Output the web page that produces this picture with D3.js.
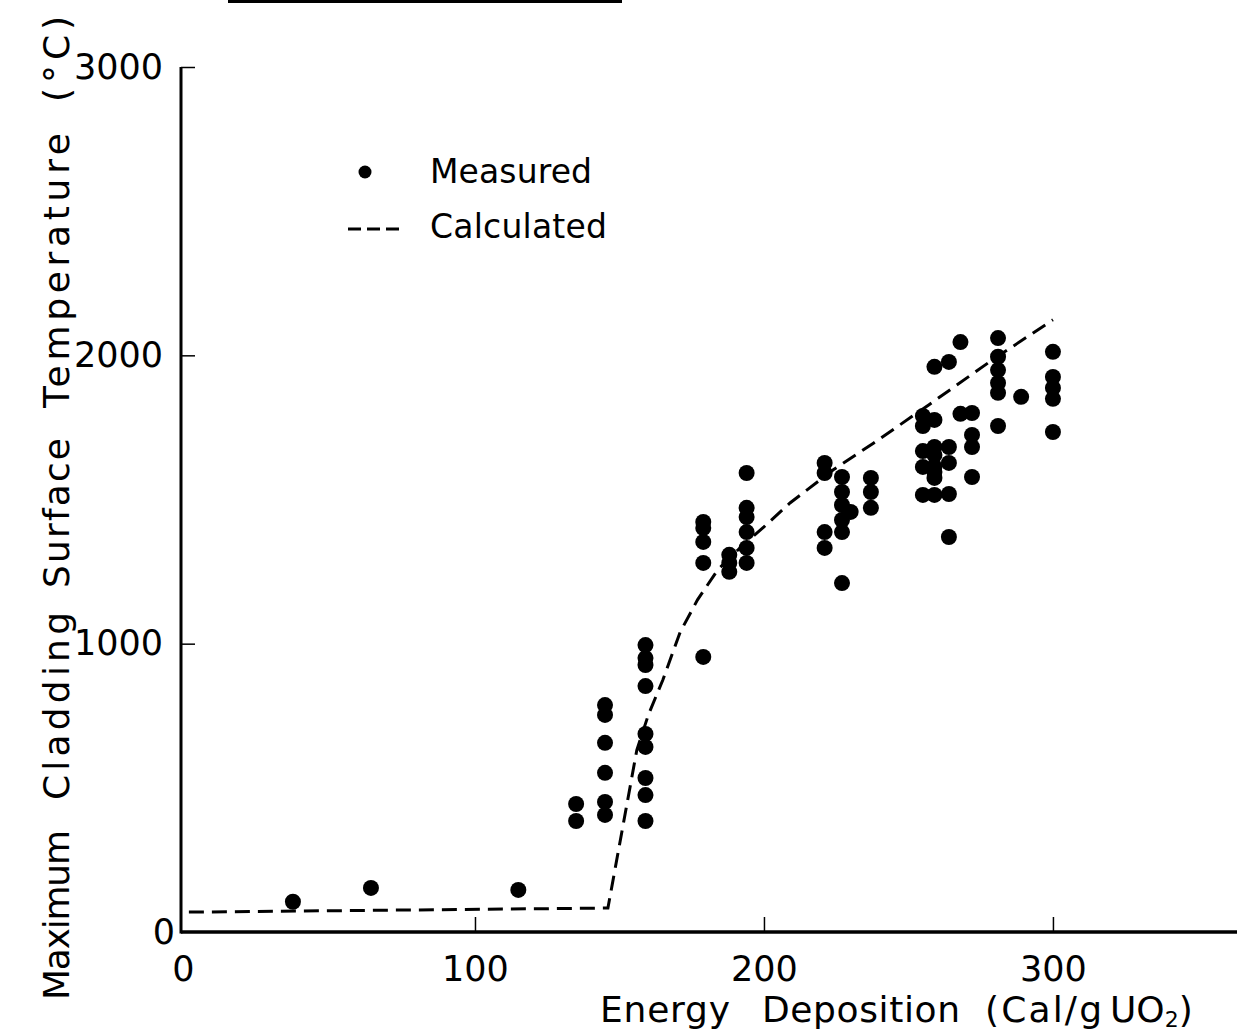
<!DOCTYPE html>
<html>
<head>
<meta charset="utf-8">
<script src="https://cdn.jsdelivr.net/npm/d3@7"></script>
<style>
  body { margin: 0; background: #fff; }
  svg { display: block; }
  text { font-family: "DejaVu Sans", sans-serif; fill: #000; }
</style>
</head>
<body>
<svg id="chart"></svg>
<script>
var width = 1237, height = 1034;

// measured points (energy deposition cal/g UO2, max cladding temperature degC)
var measuredEnergy = [37, 64, 115,
  135, 135,
  145, 145, 145, 145, 145, 145,
  159, 159, 159, 159, 159, 159, 159, 159, 159,
  179, 179, 179, 179, 179,
  188, 188, 188,
  194, 194, 194, 194, 194, 194,
  221, 221, 221, 221,
  227, 227, 227, 227, 227, 227,
  230,
  237, 237, 237,
  255, 255, 255, 255, 255,
  259, 259, 259, 259, 259, 259, 259, 259,
  264, 264, 264, 264, 264,
  268, 268,
  272, 272, 272, 272,
  281, 281, 281, 281, 281, 281,
  289,
  300, 300, 300, 300, 300];
var measuredTemp = [105, 153, 146,
  444, 385,
  787, 753, 656, 552, 451, 406,
  995, 950, 926, 853, 687, 642, 534, 475, 385,
  1422, 1401, 1353, 1280, 954,
  1308, 1280, 1249,
  1592, 1471, 1439, 1387, 1332, 1280,
  1627, 1592, 1387, 1332,
  1578, 1526, 1481, 1429, 1387, 1210,
  1457,
  1575, 1526, 1471,
  1790, 1755, 1668, 1613, 1516,
  1960, 1776, 1682, 1654, 1613, 1595, 1575, 1516,
  1977, 1682, 1627, 1519, 1370,
  2046, 1797,
  1800, 1724, 1682, 1578,
  2060, 1995, 1949, 1904, 1870, 1755,
  1856,
  2012, 1925, 1887, 1849, 1734];

// calculated curve
var calcEnergy = [1, 146, 156, 160, 165, 171, 177, 184, 192, 200, 209, 224, 238, 257, 279, 300];
var calcTemp = [69, 83, 631, 753, 874, 1040, 1152, 1256, 1335, 1405, 1488, 1603, 1696, 1828, 1984, 2123];

var xTicks = [0, 100, 200, 300];
var yTicks = [0, 1000, 2000, 3000];

// axis title words: [text, start along axis, length]
var xTitleWords = [["Energy", 600, 130], ["Deposition", 762, 198], ["(Cal/g", 985, 117]];
var yTitleWords = [["Maximum", 0, 170], ["Cladding", 200, 188], ["Surface", 412, 150], ["Temperature", 592, 275], ["(°C)", 898, 86]];

var svg = d3.select("#chart").attr("width", width).attr("height", height);

var x = d3.scaleLinear().domain([0, 363]).range([186, 1235]);
var y = d3.scaleLinear().domain([0, 3000]).range([932, 67]);

// stray rule at the top of the scan
svg.append("line")
  .attr("x1", 228).attr("x2", 622).attr("y1", 1.5).attr("y2", 1.5)
  .attr("stroke", "#000").attr("stroke-width", 3);

// x axis
var xAxis = svg.append("g")
  .attr("transform", "translate(0," + y(0) + ")")
  .call(d3.axisBottom(x).tickValues(xTicks).tickSizeInner(-15).tickSizeOuter(0).tickPadding(24).tickFormat(d3.format("d")));
xAxis.select(".domain").remove();
xAxis.selectAll(".tick line").attr("stroke", "#000").attr("stroke-width", 1.5)
  .style("display", function (d) { return d === 0 ? "none" : null; });
xAxis.selectAll(".tick text").attr("font-size", 35).attr("font-family", "DejaVu Sans")
  .attr("x", function (d) { return d === 0 ? -3 : 0; });
svg.append("line")
  .attr("x1", 181).attr("x2", width).attr("y1", y(0)).attr("y2", y(0))
  .attr("stroke", "#000").attr("stroke-width", 3.5);

// y axis
var yAxis = svg.append("g")
  .attr("transform", "translate(181,0)")
  .call(d3.axisLeft(y).tickValues(yTicks).tickSizeInner(-14).tickSizeOuter(0).tickPadding(18).tickFormat(d3.format("d")));
yAxis.select(".domain").remove();
yAxis.selectAll(".tick line").attr("stroke", "#000").attr("stroke-width", 1.5)
  .style("display", function (d) { return d === 0 ? "none" : null; });
yAxis.selectAll(".tick text").attr("font-size", 35).attr("font-family", "DejaVu Sans")
  .attr("x", function (d) { return d === 0 ? -6 : -18; });
svg.append("line")
  .attr("x1", 181).attr("x2", 181).attr("y1", y(3000)).attr("y2", y(0) + 1.5)
  .attr("stroke", "#000").attr("stroke-width", 3);

// calculated curve
var line = d3.line()
  .x(function (d) { return x(d[0]); })
  .y(function (d) { return y(d[1]); });
svg.append("path")
  .datum(d3.zip(calcEnergy, calcTemp))
  .attr("d", line)
  .attr("fill", "none")
  .attr("stroke", "#000")
  .attr("stroke-width", 3)
  .attr("stroke-dasharray", "15,8");

// measured points
svg.append("g").selectAll("circle")
  .data(d3.zip(measuredEnergy, measuredTemp))
  .join("circle")
  .attr("cx", function (d) { return x(d[0]); })
  .attr("cy", function (d) { return y(d[1]); })
  .attr("r", 8)
  .attr("fill", "#000");

// legend
svg.append("circle").attr("cx", 365).attr("cy", 172).attr("r", 6.5).attr("fill", "#000");
svg.append("text").attr("x", 430).attr("y", 183).attr("font-size", 33)
  .attr("textLength", 162).attr("lengthAdjust", "spacing").text("Measured");
svg.append("line")
  .attr("x1", 348).attr("x2", 400).attr("y1", 229).attr("y2", 229)
  .attr("stroke", "#000").attr("stroke-width", 3).attr("stroke-dasharray", "13,6");
svg.append("text").attr("x", 430).attr("y", 238).attr("font-size", 33)
  .attr("textLength", 177).attr("lengthAdjust", "spacing").text("Calculated");

// x axis title
svg.append("g").selectAll("text")
  .data(xTitleWords)
  .join("text")
  .attr("x", function (d) { return d[1]; })
  .attr("y", 1022)
  .attr("font-size", 36)
  .attr("textLength", function (d) { return d[2]; })
  .attr("lengthAdjust", "spacing")
  .text(function (d) { return d[0]; });
var uo = svg.append("text").attr("x", 1110).attr("y", 1022).attr("font-size", 36);
uo.append("tspan").text("UO");
uo.append("tspan").attr("font-size", 22).attr("dy", 5).text("2");
uo.append("tspan").attr("dy", -5).text(")");

// y axis title
svg.append("g")
  .attr("transform", "translate(69,1000) rotate(-90)")
  .selectAll("text")
  .data(yTitleWords)
  .join("text")
  .attr("x", function (d) { return d[1]; })
  .attr("y", 0)
  .attr("font-size", 36)
  .attr("textLength", function (d) { return d[2]; })
  .attr("lengthAdjust", "spacing")
  .text(function (d) { return d[0]; });
</script>
</body>
</html>
